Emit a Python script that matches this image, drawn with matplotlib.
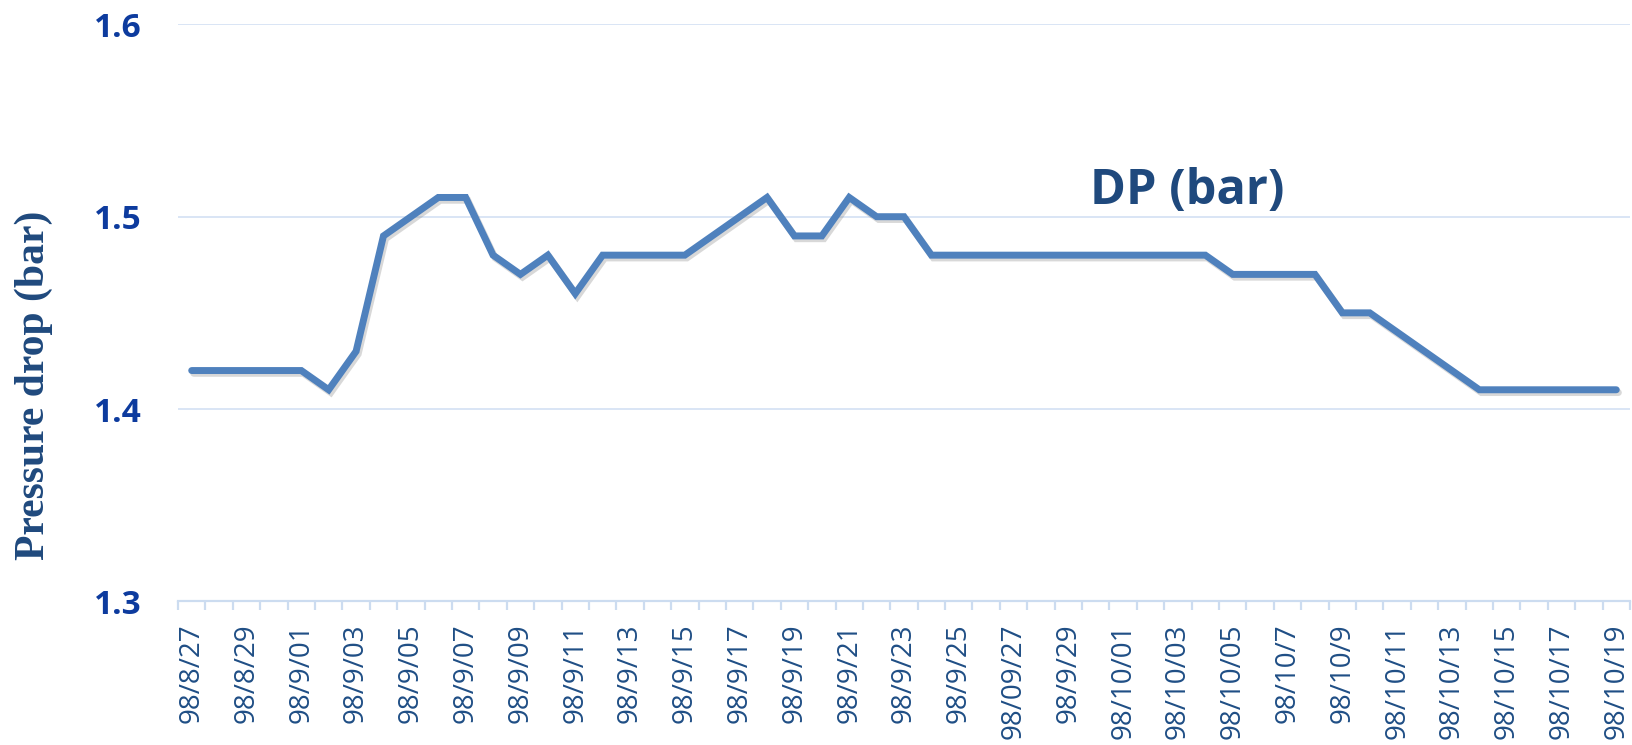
#!/usr/bin/env python3
# -*- coding: utf-8 -*-

import numpy as np
import matplotlib
matplotlib.use("Agg")
import matplotlib.pyplot as plt
import matplotlib.patheffects as pe

dates = [
    "98/8/27", "98/8/28", "98/8/29", "98/8/30",
    "98/9/01", "98/9/02", "98/9/03", "98/9/04", "98/9/05", "98/9/06",
    "98/9/07", "98/9/08", "98/9/09", "98/9/10", "98/9/11", "98/9/12",
    "98/9/13", "98/9/14", "98/9/15", "98/9/16", "98/9/17", "98/9/18",
    "98/9/19", "98/9/20", "98/9/21", "98/9/22", "98/9/23", "98/9/24",
    "98/9/25", "98/9/26", "98/09/27", "98/9/28", "98/9/29", "98/9/30",
    "98/10/01", "98/10/02", "98/10/03", "98/10/04", "98/10/05", "98/10/6",
    "98/10/7", "98/10/8", "98/10/9", "98/10/10", "98/10/11", "98/10/12",
    "98/10/13", "98/10/14", "98/10/15", "98/10/16", "98/10/17", "98/10/18",
    "98/10/19",
]

dp_bar = [
    1.42, 1.42, 1.42, 1.42, 1.42, 1.41, 1.43, 1.49, 1.50, 1.51,
    1.51, 1.48, 1.47, 1.48, 1.46, 1.48, 1.48, 1.48, 1.48, 1.49,
    1.50, 1.51, 1.49, 1.49, 1.51, 1.50, 1.50, 1.48, 1.48, 1.48,
    1.48, 1.48, 1.48, 1.48, 1.48, 1.48, 1.48, 1.48, 1.47, 1.47,
    1.47, 1.47, 1.45, 1.45, 1.44, 1.43, 1.42, 1.41, 1.41, 1.41,
    1.41, 1.41, 1.41,
]

y_ticks = [1.3, 1.4, 1.5, 1.6]


def plot_dp(filename="out.png"):
    """繪製壓降隨日期變化的折線圖。"""
    fig = plt.figure(figsize=(16.32, 7.45), dpi=100)
    ax = fig.add_axes([178 / 1632, 1 - 601.3 / 745, 1452 / 1632, (601.3 - 24.4) / 745])

    x = np.arange(len(dates))
    ax.plot(x, dp_bar, color="#4F81BD", linewidth=5.0,
            solid_capstyle="round", solid_joinstyle="miter",
            path_effects=[pe.SimpleLineShadow(offset=(1.5, -2), shadow_color="#808080", alpha=0.3),
                          pe.Normal()])

    ax.set_xlim(-0.5, len(dates) - 0.5)
    ax.set_ylim(1.3, 1.6)

    ax.set_yticks(y_ticks)
    ax.set_yticklabels([f"{v:.1f}" for v in y_ticks])
    ax.tick_params(axis="y", length=0, pad=26, labelsize=24, labelcolor="#0D3B9E")
    for lab in ax.get_yticklabels():
        lab.set_fontfamily("Open Sans")
        lab.set_fontweight("bold")

    ax.set_xticks(x[::2])
    ax.set_xticklabels(dates[::2], rotation=90, fontfamily="Open Sans")
    ax.set_xticks(np.arange(-0.5, len(dates)), minor=True)
    ax.tick_params(axis="x", which="major", length=0, pad=16, labelsize=20, labelcolor="#1F4E85")
    ax.tick_params(axis="x", which="minor", length=6.5, width=1.6, color="#CCDCF0")

    ax.grid(axis="y", color="#D9E5F5", linewidth=1.4)
    ax.set_axisbelow(True)
    for side in ["left", "right", "top"]:
        ax.spines[side].set_visible(False)
    ax.spines["bottom"].set_color("#CCDCF0")
    ax.spines["bottom"].set_linewidth(1.6)

    ax.text(0.695, 0.711, "DP (bar)", transform=ax.transAxes, ha="center", va="center",
            fontsize=35, fontweight="bold", fontfamily="Open Sans", color="#1F497D")

    fig.text(34 / 1632, 1 - 385 / 745, "Pressure drop (bar)", rotation=90,
             ha="center", va="center", fontsize=30, fontweight="bold",
             fontfamily="Liberation Serif", color="#1F497D")

    fig.savefig(filename, dpi=100)
    plt.close(fig)
    return filename


if __name__ == "__main__":
    plot_dp()
